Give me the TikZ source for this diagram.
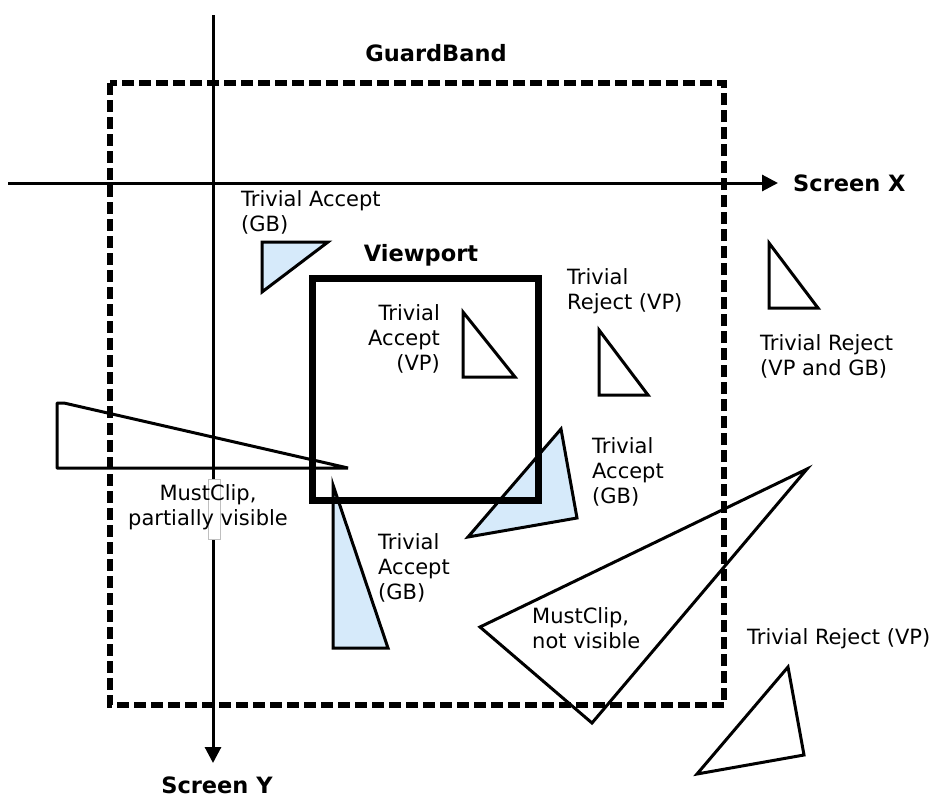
\documentclass[tikz,border=0pt]{standalone}
\usepackage{fontspec}
\setmainfont{DejaVu Sans}
\usetikzlibrary{arrows.meta}
\definecolor{tribl}{RGB}{214,234,250}
\begin{document}
\begin{tikzpicture}[x=1pt,y=-1pt,
  lbl/.style={inner sep=0pt, font=\fontsize{21}{25}\selectfont},
  blbl/.style={inner sep=0pt, font=\fontsize{22.5}{27}\selectfont\bfseries},
  tri/.style={draw=black, line width=3pt, line join=miter},
  tribf/.style={tri, fill=tribl},
  axisline/.style={line width=3pt, -{Triangle[length=16pt,width=16pt]}},
  gband/.style={line width=6pt, dash pattern=on 12pt off 5pt},
  vport/.style={line width=7pt, line join=miter},
]
\useasboundingbox (0,0) rectangle (943,798);
\fill[white] (0,0) rectangle (943,798);

% axes
\coordinate (yt) at (213,15);
\coordinate (yb) at (213,763);
\coordinate (xl) at (8,183);
\coordinate (xr) at (778,183);
\draw[axisline] (yt) -- (yb);
\draw[axisline] (xl) -- (xr);

% guard band
\draw[gband] (110,83) rectangle (724,705);

% blue (trivial accept GB) triangles
\draw[tribf] (262,242) -- (328,242) -- (262,292) -- cycle;
\draw[tribf] (333,485) -- (388,648) -- (333,648) -- cycle;
\draw[tribf] (561,429) -- (577,518) -- (468,537) -- cycle;

% viewport
\draw[vport] (312,278) rectangle (538,500);

% white triangles
\draw[tri] (463,312) -- (515,377) -- (463,377) -- cycle;
\draw[tri] (599,330) -- (648,395) -- (599,395) -- cycle;
\draw[tri] (769,243) -- (818,308) -- (769,308) -- cycle;
\draw[tri, line join=bevel] (57,403) -- (64,403) -- (348,468) -- (57,468) -- cycle;
\draw[tri] (480,627) -- (807,469) -- (592,723) -- cycle;
\draw[tri] (788,667) -- (804,755) -- (697,774) -- cycle;

% small white box on the axis
\draw[fill=white, draw=black!25, line width=0.8pt] (208,479) rectangle (220,539);

% labels
\node[blbl] (gbl) at (436,53) {GuardBand};
\node[blbl] (vpl) at (421,255) {Viewport};
\node[blbl, anchor=west] (sxl) at (793,183) {Screen X};
\node[blbl] (syl) at (217,785) {Screen Y};

\node[lbl, anchor=west, align=left] (ta1) at (241,212) {Trivial Accept\\(GB)};
\node[lbl, anchor=east, align=right] (ta2) at (440,339) {Trivial\\Accept\\(VP)};
\node[lbl, anchor=west, align=left] (tr1) at (567,291) {Trivial\\Reject (VP)};
\node[lbl, anchor=west, align=left] (tr2) at (760,356) {Trivial Reject\\(VP and GB)};
\node[lbl, align=center] (mc1) at (208,507) {MustClip,\\partially visible};
\node[lbl, anchor=west, align=left] (ta3) at (378,568) {Trivial\\Accept\\(GB)};
\node[lbl, anchor=west, align=left] (ta4) at (592,472) {Trivial\\Accept\\(GB)};
\node[lbl, anchor=west, align=left] (mc2) at (532,628) {MustClip,\\not visible};
\node[lbl, anchor=west] (tr3) at (747,639) {Trivial Reject (VP)};
\end{tikzpicture}
\end{document}
